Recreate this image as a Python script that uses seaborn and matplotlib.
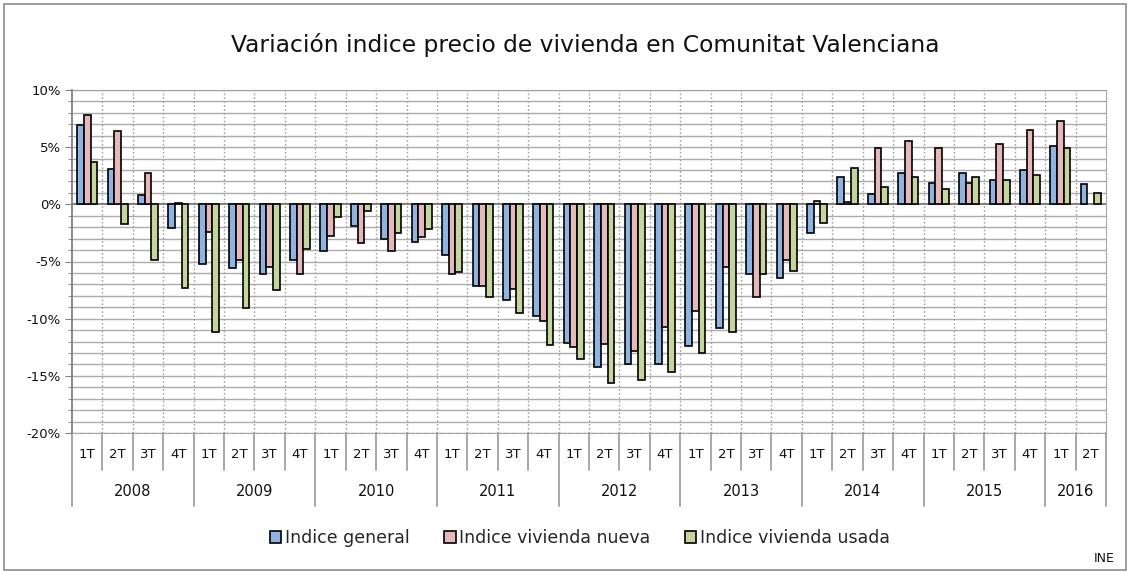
import numpy as np
import pandas as pd
import matplotlib.pyplot as plt
import matplotlib.transforms as mtransforms
from matplotlib.patches import Rectangle
import seaborn as sns

# datos (variacion anual, %)
years = ['2008', '2009', '2010', '2011', '2012', '2013', '2014', '2015', '2016']
quarters = ['1T', '2T', '3T', '4T']
n_quarters = [4, 4, 4, 4, 4, 4, 4, 4, 2]

general = [6.9, 3.1, 0.8, -2.1,
           -5.2, -5.6, -6.1, -4.9,
           -4.1, -1.9, -3.0, -3.3,
           -4.4, -7.1, -8.4, -9.8,
           -12.1, -14.2, -14.0, -14.0,
           -12.4, -10.8, -6.1, -6.4,
           -2.5, 2.4, 0.9, 2.7,
           1.9, 2.7, 2.1, 3.0,
           5.1, 1.8]
nueva = [7.8, 6.4, 2.7, 0.15,
         -2.4, -4.9, -5.5, -6.1,
         -2.8, -3.4, -4.1, -2.9,
         -6.1, -7.1, -7.4, -10.2,
         -12.5, -12.2, -12.8, -10.7,
         -9.3, -5.5, -8.1, -4.9,
         0.3, 0.2, 4.9, 5.5,
         4.9, 1.9, 5.3, 6.5,
         7.3, np.nan]
usada = [3.7, -1.7, -4.9, -7.3,
         -11.2, -9.1, -7.5, -3.9,
         -1.1, -0.6, -2.5, -2.2,
         -5.9, -8.1, -9.5, -12.3,
         -13.5, -15.6, -15.4, -14.7,
         -13.0, -11.2, -6.1, -5.8,
         -1.6, 3.2, 1.5, 2.4,
         1.3, 2.4, 2.1, 2.6,
         4.9, 1.0]

series = ['Indice general', 'Indice vivienda nueva', 'Indice vivienda usada']
colors = ['#8DB4E2', '#E6B9B8', '#C3D69B']

periods = []
qlabels = []
for y, n in zip(years, n_quarters):
    for q in quarters[:n]:
        periods.append(y + '-' + q)
        qlabels.append(q)

df = pd.DataFrame({'periodo': periods * 3,
                   'valor': general + nueva + usada,
                   'serie': np.repeat(series, len(periods))})
df = df.dropna()

sns.set_style('white')
plt.rcParams['font.family'] = ['DejaVu Sans']

fig = plt.figure(figsize=(11.31, 5.72), dpi=100)
ax = fig.add_axes([72 / 1131, 1 - 433 / 572, (1106 - 72) / 1131, 343 / 572])

sns.barplot(data=df, x='periodo', y='valor', hue='serie', order=periods,
            hue_order=series, palette=colors, width=0.66, edgecolor='black',
            linewidth=1.2, saturation=1, ax=ax, zorder=3)

handles, labels = ax.get_legend_handles_labels()
ax.get_legend().remove()

ax.set_ylim(-20, 10)
ax.set_xlim(-0.5, len(periods) - 0.5)
ax.set_yticks(np.arange(-20, 11, 5))
ax.set_yticks(np.arange(-20, 11, 1), minor=True)
ax.set_yticklabels([f'{v}%' for v in range(-20, 11, 5)], fontsize=9.5, color='#111111')
ax.tick_params(axis='y', which='major', left=True, length=5, color='#808080', pad=3)
ax.tick_params(axis='y', which='minor', left=True, length=3, color='#808080')
ax.set_xticks([])
ax.set_xlabel('')
ax.set_ylabel('')

ax.grid(False)
for v in range(-20, 11):
    if v == 0:
        continue
    ax.axhline(v, color='#acacac', lw=1.0, zorder=1)
ax.axhline(0, color='#7f7f7f', lw=1.4, zorder=2)
for i in range(1, len(periods)):
    ax.axvline(i - 0.5, color='#a0a0a0', lw=1, ls=(0, (1.2, 1.6)), zorder=1)

for s in ['top', 'right', 'bottom']:
    ax.spines[s].set_color('#a0a0a0')
    ax.spines[s].set_linestyle((0, (1.2, 1.2)))
ax.spines['left'].set_color('#808080')
ax.spines['left'].set_linewidth(1.3)

# eje de categorias en dos niveles
trans = mtransforms.blended_transform_factory(ax.transData, ax.transAxes)
q_y = -22 / 343
y_y = -59 / 343
for i, q in enumerate(qlabels):
    ax.text(i, q_y, q, transform=trans, ha='center', va='center', fontsize=9.5, color='#111111')
pos = 0
bounds = [-0.5]
for y, n in zip(years, n_quarters):
    ax.text(pos + (n - 1) / 2, y_y, y, transform=trans, ha='center', va='center',
            fontsize=10.5, color='#111111')
    pos += n
    bounds.append(pos - 0.5)
for i in range(len(periods) + 1):
    b = i - 0.5
    low = -73 / 343 if b in bounds else -37 / 343
    ax.plot([b, b], [0, low], transform=trans, color='#a0a0a0', lw=1.3, clip_on=False)

fig.suptitle('Variación indice precio de vivienda en Comunitat Valenciana',
             x=585 / 1131, y=1 - 45 / 572, va='center', fontsize=16.8, color='#111111')

fig.legend(handles, labels, loc='center', bbox_to_anchor=(580 / 1131, 1 - 538 / 572),
           ncol=3, frameon=False, fontsize=12.5, handlelength=0.65, handleheight=0.65,
           handletextpad=0.2, columnspacing=2.0)

fig.text(1115 / 1131, 1 - 559 / 572, 'INE', ha='right', va='center', fontsize=9, color='#111111')

fig.patches.append(Rectangle((4 / 1131, 2 / 572), 1122 / 1131, 566 / 572, transform=fig.transFigure,
                             fill=False, edgecolor='#8c8c8c', lw=1.2))

fig.savefig('out.png', dpi=100)
